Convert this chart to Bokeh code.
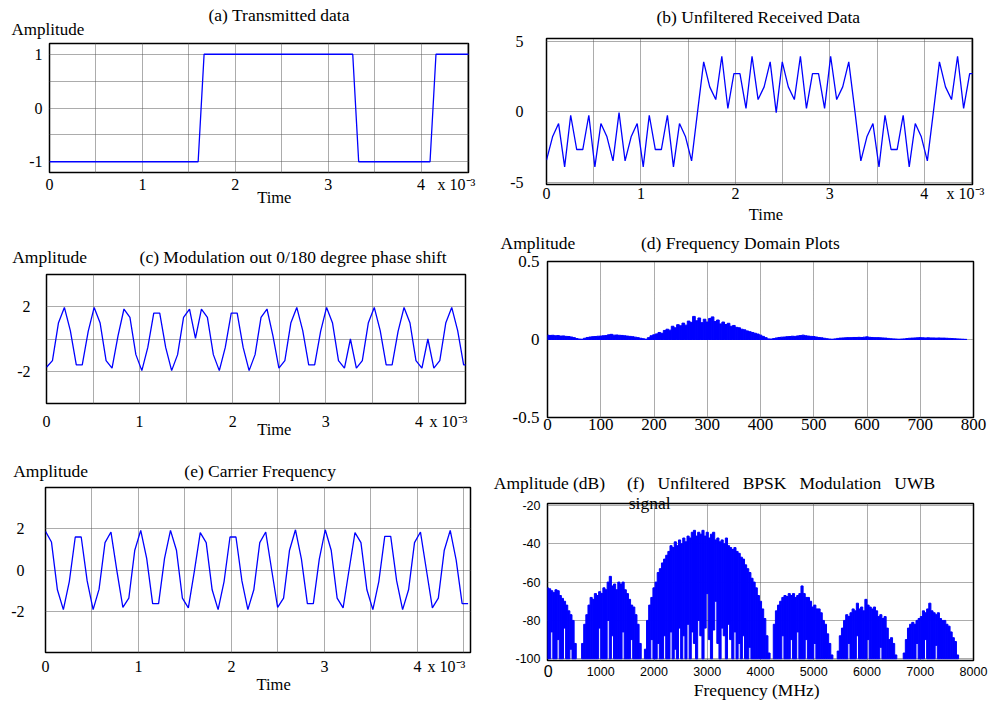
from bokeh.plotting import figure
from bokeh.models import Range1d, FixedTicker, Title
from bokeh.layouts import column, row
from bokeh.embed import file_html
from bokeh.resources import INLINE

SERIF = "Liberation Serif"
SANS = "Liberation Sans"
BLUE = "#0000ff"
GRID = "#585858"
NB = "\u00a0"

# ---------------- data ----------------
# sample instants (x 10^-3 s)
t_ms = [0.000, 0.064, 0.128, 0.192, 0.256, 0.320, 0.384, 0.448, 0.512, 0.576,
        0.640, 0.704, 0.768, 0.832, 0.896, 0.960, 1.024, 1.088, 1.152, 1.216,
        1.280, 1.344, 1.408, 1.472, 1.536, 1.600, 1.664, 1.728, 1.792, 1.856,
        1.920, 1.984, 2.048, 2.112, 2.176, 2.240, 2.304, 2.368, 2.432, 2.496,
        2.560, 2.624, 2.688, 2.752, 2.816, 2.880, 2.944, 3.008, 3.072, 3.136,
        3.200, 3.264, 3.328, 3.392, 3.456, 3.520, 3.584, 3.648, 3.712, 3.776,
        3.840, 3.904, 3.968, 4.032, 4.096, 4.160, 4.224, 4.288, 4.352, 4.416,
        4.480, 4.544]

# (a) transmitted data (break points)
a_t_ms = [0.0, 1.600, 1.664, 3.264, 3.328, 4.096, 4.160, 4.544]
a_level = [-1, -1, 1, 1, -1, -1, 1, 1]

# (b) unfiltered received data
b_received = [-3.42, -1.77, -0.83, -3.90, -0.24, -2.67, -2.67, -0.24, -3.90, -0.83,
              -1.77, -3.47, -0.05, -3.47, -1.77, -0.83, -3.90, -0.24, -2.67, -2.67,
              -0.24, -3.90, -0.83, -1.77, -3.47, 0.05, 3.54, 1.77, 0.87, 3.94,
              0.24, 2.71, 2.71, 0.24, 3.94, 0.87, 1.77, 3.54, -0.05, 3.54,
              1.77, 0.87, 3.94, 0.24, 2.71, 2.71, 0.24, 3.94, 0.87, 1.77,
              3.54, 0.10, -3.47, -1.77, -0.83, -3.90, -0.24, -2.67, -2.67, -0.24,
              -3.90, -0.83, -1.77, -3.47, 0.00, 3.54, 1.77, 0.87, 3.94, 0.24,
              2.71, 2.71]

# (c) modulation out, 0/180 degree phase shift
c_modulated = [-1.75, -1.34, 0.99, 1.96, 0.52, -1.60, -1.60, 0.47, 1.96, 0.99,
               -1.34, -1.81, 0.20, 1.86, 1.34, -0.97, -1.96, -0.52, 1.60, 1.60,
               -0.52, -1.96, -0.97, 1.34, 1.86, 0.04, 1.86, 1.34, -0.97, -1.96,
               -0.52, 1.60, 1.60, -0.52, -1.96, -0.97, 1.34, 1.86, 0.20, -1.81,
               -1.34, 0.99, 1.96, 0.52, -1.60, -1.60, 0.47, 1.96, 0.99, -1.34,
               -1.81, 0.00, -1.81, -1.34, 0.99, 1.96, 0.52, -1.60, -1.60, 0.47,
               1.96, 0.99, -1.34, -1.81, 0.00, -1.81, -1.34, 0.99, 1.96, 0.52,
               -1.60, -1.60]

# (e) carrier
e_carrier = [1.87, 1.36, -0.96, -1.92, -0.56, 1.60, 1.60, -0.53, -1.92, -0.93,
             1.33, 1.84, -0.05, -1.81, -1.36, 0.96, 1.92, 0.56, -1.63, -1.63,
             0.56, 1.92, 0.96, -1.36, -1.84, -0.08, 1.81, 1.33, -0.96, -1.92,
             -0.56, 1.60, 1.60, -0.53, -1.92, -0.96, 1.33, 1.84, 0.00, -1.81,
             -1.36, 0.96, 1.95, 0.53, -1.63, -1.63, 0.53, 1.95, 0.96, -1.36,
             -1.84, 0.00, 1.81, 1.33, -0.96, -1.92, -0.56, 1.63, 1.63, -0.53,
             -1.92, -0.96, 1.33, 1.84, 0.00, -1.84, -1.36, 0.96, 1.92, 0.48,
             -1.63, -1.63]

# (d) frequency-domain amplitude, bins every 5 units from 0
d_bin_step = 5
d_amp = [0.028, 0.026, 0.027, 0.024, 0.025, 0.022, 0.023, 0.020, 0.019, 0.016, 0.012, 0.006,
         0.003, 0.002,
         0.008, 0.013, 0.016, 0.018, 0.019, 0.021, 0.022, 0.024, 0.025, 0.030, 0.033, 0.028,
         0.029, 0.027, 0.026, 0.024, 0.022, 0.020, 0.018, 0.015, 0.012, 0.008, 0.005, 0.002,
         0.012, 0.024, 0.030, 0.036, 0.045, 0.040, 0.058, 0.066, 0.060, 0.085,
         0.075, 0.095, 0.088, 0.105, 0.092, 0.118, 0.110, 0.148, 0.120, 0.138,
         0.108, 0.130, 0.112, 0.135, 0.145, 0.115, 0.125, 0.100, 0.112, 0.096,
         0.104, 0.085, 0.090, 0.078, 0.075, 0.066, 0.062, 0.055, 0.050, 0.045,
         0.040, 0.035, 0.028, 0.020, 0.012,
         0.004, 0.003,
         0.006, 0.010, 0.013, 0.015, 0.016, 0.018, 0.019, 0.021, 0.020, 0.023, 0.025,
         0.028, 0.024, 0.022, 0.020, 0.019, 0.016, 0.013, 0.011, 0.008, 0.005, 0.003,
         0.002, 0.004, 0.007, 0.009, 0.010, 0.011, 0.012, 0.012, 0.013, 0.013, 0.014, 0.013, 0.015,
         0.017, 0.014, 0.013, 0.012, 0.012, 0.011, 0.010, 0.009, 0.007, 0.005, 0.004, 0.003, 0.002,
         0.003, 0.004, 0.006, 0.008, 0.009, 0.010, 0.011, 0.012, 0.011, 0.010, 0.011, 0.010, 0.010,
         0.009, 0.010, 0.009, 0.009, 0.008, 0.007, 0.006, 0.005, 0.004, 0.003, 0.002, 0.001]

# (f) spectrum in dB: per lobe, peak and dip in every 40 MHz bin
f_bin_mhz = 40
f_lobe_start_mhz = [0, 660, 1840, 4260, 5460, 6700]
f_lobe1_top = [-63, -63.5, -64.5, -65.5, -64, -64.5, -67, -68.5, -70, -72, -75, -77, -80, -92]
f_lobe1_dip = [-100, -100, -86, -100, -100, -90, -100, -100, -84, -100, -100, -95, -100, -100]
f_lobe2_top = [-92, -82, -77, -72, -68, -69, -66, -67, -65, -66, -63, -64, -60, -57,
               -62, -61, -64, -60, -61, -60, -64, -66, -69, -72, -73, -77, -82, -92]
f_lobe2_dip = [-100, -100, -100, -100, -100, -100, -100, -100, -84, -100, -100, -100, -80, -100,
               -88, -100, -100, -100, -100, -86, -100, -100, -100, -90, -100, -100, -100, -100]
f_lobe3_top = [-95, -80, -72, -68, -63, -60, -55, -53, -50, -48,
               -46, -44, -41, -42, -39, -41, -38, -40, -37, -39,
               -36, -37, -34, -33, -36, -34, -35, -33, -36, -34,
               -37, -35, -34, -38, -37, -39, -38, -40, -37, -41,
               -42, -43, -42, -44, -45, -47, -48, -51, -53, -55,
               -58, -60, -63, -67, -70, -74, -79, -88, -97]
f_lobe3_dip = [-100, -100, -100, -90, -100, -100, -92, -100, -100, -88,
               -100, -100, -86, -100, -95, -100, -84, -100, -88, -100,
               -82, -100, -86, -92, -100, -80, -88, -100, -84, -66,
               -90, -100, -85, -70, -92, -100, -84, -88, -100, -82,
               -90, -100, -86, -100, -92, -100, -88, -100, -100, -94,
               -100, -100, -100, -100, -100, -100, -100, -100, -100]
f_lobe4_top = [-82, -75, -72, -70, -68, -67, -67.5, -66, -67, -66, -68, -67, -66, -62,
               -66, -68, -68, -70, -73, -72, -74, -74, -76, -80, -82, -87, -92, -98]
f_lobe4_dip = [-100, -100, -100, -100, -88, -100, -100, -100, -90, -100, -100, -86, -100, -100,
               -100, -90, -100, -100, -100, -92, -100, -100, -100, -100, -100, -100, -100, -100]
f_lobe5_top = [-96, -88, -84, -80, -77, -78, -76, -74, -75, -71, -74, -73, -75, -69,
               -72, -73, -74, -73, -75, -78, -77, -79, -78, -84, -90, -89, -92, -98]
f_lobe5_dip = [-100, -100, -100, -100, -100, -92, -100, -100, -100, -88, -100, -100, -100, -100,
               -90, -100, -100, -100, -100, -100, -94, -100, -100, -100, -100, -100, -100, -100]
f_lobe6_top = [-97, -90, -84, -82, -81, -82, -80, -79, -78, -75, -76, -74, -71,
               -75, -76, -77, -76, -79, -80, -80, -82, -83, -86, -89, -91, -98]
f_lobe6_dip = [-100, -100, -100, -100, -100, -100, -92, -100, -100, -100, -90, -100, -100,
               -100, -100, -93, -100, -100, -100, -100, -100, -100, -100, -100, -100, -100]

time_grid = [0, 0.5, 1, 1.5, 2, 2.5, 3, 3.5, 4, 4.5]
time_ticks = [0, 1, 2, 3, 4]
time_tick_labels = ["0", "1", "2", "3", "4"]
time_scale_text = "x 10\u207b\u00b3"

# ---------------- helpers ----------------
ASC = {SERIF: 0.891, SANS: 0.905}
DESC = {SERIF: 0.216, SANS: 0.212}


def make_panel(ox, oy, w, h, frame, xr, yr):
    L, T, R, B = frame
    p = figure(width=w, height=h, title=None, output_backend="svg", toolbar_location=None,
               x_range=Range1d(*xr), y_range=Range1d(*yr),
               min_border_left=L - ox, min_border_right=ox + w - R,
               min_border_top=T - oy, min_border_bottom=oy + h - B)
    try:
        p.frame_align = False
    except Exception:
        pass
    p.outline_line_color = "black"
    p.outline_line_width = 1.5
    p.background_fill_color = "white"
    p.border_fill_color = "white"
    p.grid.grid_line_color = GRID
    p.grid.grid_line_dash = "1 1"
    p.grid.grid_line_width = 1
    for ax in (p.xaxis[0], p.yaxis[0]):
        ax.axis_line_color = None
        ax.major_tick_in = 0
        ax.major_tick_out = 0
        ax.major_tick_line_color = None
        ax.minor_tick_line_color = None
    return p


def set_ticks(p, xt, xl, xg, yt, yl, yg, xs, ys, font=SERIF, size=16):
    p.xaxis.ticker = FixedTicker(ticks=xt)
    p.xaxis.major_label_overrides = dict(zip(xt, xl))
    p.yaxis.ticker = FixedTicker(ticks=yt)
    p.yaxis.major_label_overrides = dict(zip(yt, yl))
    p.xgrid.ticker = FixedTicker(ticks=xg)
    p.ygrid.ticker = FixedTicker(ticks=yg)
    p.xaxis.major_label_standoff = xs
    p.yaxis.major_label_standoff = ys
    for ax in (p.xaxis[0], p.yaxis[0]):
        ax.major_label_text_font = font
        ax.major_label_text_font_size = f"{size}px"
        ax.major_label_text_color = "black"


def data_x(frame, xr, px):
    L, T, R, B = frame
    return xr[0] + (px - L) / (R - L) * (xr[1] - xr[0])


def _title(text, align_left_offset, standoff, valign, font, size):
    return Title(text=text, align="left", offset=align_left_offset, standoff=standoff,
                 vertical_align=valign, text_font=font, text_font_size=f"{size}px",
                 text_font_style="normal", text_color="black")


def titles_above(p, frame, canvas_top, items):
    # items from the frame outward: (text, left px, baseline px, size px, font)
    L, T, R, B = frame
    border = T - canvas_top
    spacer = 0.0
    if len(items) == 1:
        text, left, base, size, font = items[0]
        total = 2 + (ASC[font] + DESC[font]) * size + 2 * (T - (base + DESC[font] * size))
        if total > border:
            spacer = total - border
    bottom = T
    if spacer > 0:
        p.add_layout(_title(NB, 0, spacer - 2 - 1.107, "bottom", SERIF, 1), "above")
        bottom = T - spacer
    for text, left, base, size, font in items:
        s = 2 * (bottom - (base + DESC[font] * size))
        p.add_layout(_title(text, left - L, s, "bottom", font, size), "above")
        bottom = bottom - (2 + (ASC[font] + DESC[font]) * size + s)


def titles_below(p, frame, axis_standoff, tick_size, tick_font, items):
    L, T, R, B = frame
    top = B + axis_standoff + (ASC[tick_font] + DESC[tick_font]) * tick_size
    for text, left, base, size, font in items:
        s = 2 * ((base - ASC[font] * size) - top)
        p.add_layout(_title(text, left - L, s, "top", font, size), "below")
        top = top + 2 + (ASC[font] + DESC[font]) * size + s


def time_axis(p, frame, xr, scale_center_px, yt, yl, yg, xs, ys):
    xe = data_x(frame, xr, scale_center_px)
    set_ticks(p, time_ticks + [xe], time_tick_labels + [time_scale_text], time_grid,
              yt, yl, yg, xs, ys)


# ---------------- (a) ----------------
fa = (49, 43, 468, 172); xa = (0, 4.51); ya = (-1.2, 1.2)
pa = make_panel(0, 0, 490, 230, fa, xa, ya)
time_axis(pa, fa, xa, 456, [-1, 0, 1], ["-1", "0", "1"], [-1, -0.5, 0, 0.5, 1], 3, 7)
pa.line(a_t_ms, a_level, line_color=BLUE, line_width=1.3)
titles_above(pa, fa, 0, [("Amplitude", 11, 35, 17, SERIF),
                         ("(a) Transmitted data", 208, 21.7, 17.5, SERIF)])
titles_below(pa, fa, 3, 16, SERIF, [("Time", 256.7, 200, 16.5, SERIF)])

# ---------------- (b) ----------------
fb = (546, 38, 972, 184); xb = (0, 4.51); yb = (-5.15, 5.2)
pb = make_panel(490, 0, 499, 230, fb, xb, yb)
time_axis(pb, fb, xb, 965, [-5, 0, 5], ["-5", "0", "5"], [-5, 0, 5], 0, 23)
pb.line(t_ms, b_received, line_color=BLUE, line_width=1.3)
titles_above(pb, fb, 0, [("(b) Unfiltered Received Data", 656, 22.7, 17.5, SERIF)])
titles_below(pb, fb, 0, 16, SERIF, [("Time", 748.3, 216.7, 16.5, SERIF)])

# ---------------- (c) ----------------
fc = (46, 274, 465, 403); xc = (0, 4.5); yc = (-4, 4)
pc = make_panel(0, 230, 490, 220, fc, xc, yc)
time_axis(pc, fc, xc, 448, [-2, 2], ["-2", "2"], [-2, 0, 2], 9, 16)
pc.line(t_ms, c_modulated, line_color=BLUE, line_width=1.3)
titles_above(pc, fc, 230, [("Amplitude" + NB * 12 + "(c) Modulation out 0/180 degree phase shift",
                            11.7, 262.5, 17.5, SERIF)])
titles_below(pc, fc, 9, 16, SERIF, [("Time", 256.7, 432.3, 16.5, SERIF)])

# ---------------- (d) ----------------
fd = (547, 261, 973, 417); xd = (0, 800); yd = (-0.5, 0.5)
pd = make_panel(490, 230, 499, 220, fd, xd, yd)
d_ticks_x = [0, 100, 200, 300, 400, 500, 600, 700, 800]
set_ticks(pd, d_ticks_x, [str(v) for v in d_ticks_x], d_ticks_x,
          [-0.5, 0, 0.5], ["-0.5", "0", "0.5"], [0], 1, 8, size=17)
d_x = [i * d_bin_step for i in range(len(d_amp))]
pd.vbar(x=d_x, top=d_amp, bottom=0, width=d_bin_step, fill_color=BLUE, line_color=BLUE, line_width=1.0)
titles_above(pd, fd, 230, [("Amplitude" + NB * 15 + "(d) Frequency Domain Plots", 500, 248.3, 17.5, SERIF)])

# ---------------- (e) ----------------
fe = (45, 487, 470, 652); xe = (0, 4.57); ye = (-4, 4)
pe = make_panel(0, 450, 490, 257, fe, xe, ye)
time_axis(pe, fe, xe, 446, [-2, 0, 2], ["-2", "0", "2"], [-2, 0, 2], 5, 21)
pe.line(t_ms, e_carrier, line_color=BLUE, line_width=1.3)
titles_above(pe, fe, 450, [("Amplitude" + NB * 22 + "(e) Carrier Frequency", 12.7, 476.7, 17.5, SERIF)])
titles_below(pe, fe, 5, 16, SERIF, [("Time", 256, 686.7, 16.5, SERIF)])

# ---------------- (f) ----------------
ff = (547, 503, 973, 660); xf = (0, 8000); yf = (-100.9, -19)
pf = make_panel(490, 450, 499, 257, ff, xf, yf)
f_ticks_x = [0, 1000, 2000, 3000, 4000, 5000, 6000, 7000, 8000]
set_ticks(pf, f_ticks_x, [""] + [str(v) for v in f_ticks_x[1:]], f_ticks_x,
          [-100, -80, -60, -40, -20], ["-100", "-80", "-60", "-40", "-20"], [-100, -80, -60, -40, -20],
          6, 7, font=SANS, size=12.5)
f_tops = [f_lobe1_top, f_lobe2_top, f_lobe3_top, f_lobe4_top, f_lobe5_top, f_lobe6_top]
f_dips = [f_lobe1_dip, f_lobe2_dip, f_lobe3_dip, f_lobe4_dip, f_lobe5_dip, f_lobe6_dip]
f_x, f_top, f_bottom = [], [], []
for start, tops, dips in zip(f_lobe_start_mhz, f_tops, f_dips):
    for i, (tp, dp) in enumerate(zip(tops, dips)):
        f_x.append(start + f_bin_mhz * i)
        f_top.append(tp)
        f_bottom.append(dp)
pf.vbar(x=f_x, top=f_top, bottom=f_bottom, width=f_bin_mhz,
        fill_color=BLUE, line_color=BLUE, line_width=1.0)
gap = NB * 3
titles_above(pf, ff, 450, [("Amplitude (dB)" + NB * 5 + "(f)" + gap + "Unfiltered" + gap + "BPSK" + gap
                            + "Modulation" + gap + "UWB", 493.3, 488.3, 17.5, SERIF),
                           ("signal", 628.3, 509.3, 17.5, SERIF)])
titles_below(pf, ff, 6, 12.5, SANS, [("Frequency (MHz)", 693.3, 697.5, 17.5, SERIF),
                                     ("0", 543.3, 680, 16, SANS)])

layout = column(row(pa, pb), row(pc, pd), row(pe, pf))
open("out.html", "w").write(file_html(layout, INLINE))
